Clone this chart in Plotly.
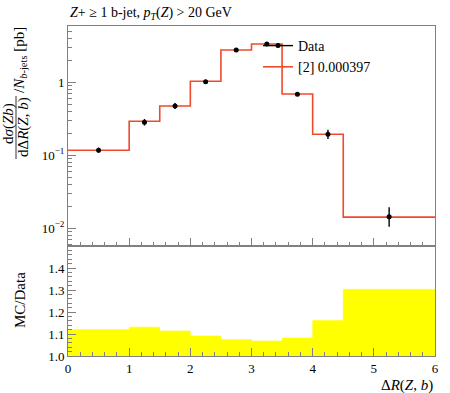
import plotly.graph_objects as go

# ---- data ----
edges = [0, 1, 1.5, 2, 2.5, 3, 3.5, 4, 4.5, 6]
mc_vals = [0.117, 0.292, 0.473, 1.03, 2.77, 3.35, 0.69, 0.194, 0.0142]
data_x = [0.5, 1.25, 1.75, 2.25, 2.75, 3.25, 3.75, 4.25, 5.25]
data_y = [0.117, 0.283, 0.473, 1.02, 2.77, 3.35, 0.685, 0.194, 0.0143]
err_up = [0.010, 0.031, 0.046, 0.05, 0.09, 0.10, 0.03, 0.030, 0.0051]
err_dn = [0.009, 0.028, 0.042, 0.05, 0.09, 0.10, 0.03, 0.027, 0.0038]
ratio_vals = [1.12, 1.131, 1.114, 1.091, 1.075, 1.068, 1.082, 1.161, 1.303]

x_ticks = [0, 1, 2, 3, 4, 5, 6]
y_ticks = [0.01, 0.1, 1]
y_ticktext = ["10<sup>\u22122</sup>", "10<sup>\u22121</sup>", "1"]
r_ticks = [1.0, 1.1, 1.2, 1.3, 1.4]
r_ticktext = ["1.0", "1.1", "1.2", "1.3", "1.4"]

FONT = "Liberation Serif"
AX = "#808080"
RED = "#ee4a2c"

W, H = 450, 393
L, R, T, B = 68, 15, 26, 37
PH = H - T - B  # 330
PW = W - L - R  # 367

def py(p):  # pixel y -> paper y
    return (H - B - p) / PH

def px(p):  # pixel x -> paper x
    return (p - L) / PW

fig = go.Figure()

# MC step line
fig.add_trace(go.Scatter(
    x=edges, y=mc_vals + [mc_vals[-1]], mode="lines", line_shape="hv",
    line=dict(color=RED, width=1.6), name="[2] 0.000397",
    xaxis="x", yaxis="y", showlegend=False))

# Data points
fig.add_trace(go.Scatter(
    x=data_x, y=data_y, mode="markers",
    marker=dict(color="black", size=5),
    error_y=dict(type="data", symmetric=False, array=err_up, arrayminus=err_dn,
                 color="black", thickness=1.4, width=0),
    xaxis="x", yaxis="y", showlegend=False, name="Data"))

# legend entries
fig.add_trace(go.Scatter(x=[None], y=[None], mode="lines+markers",
                         line=dict(color="black", width=1.4),
                         marker=dict(color="black", size=5),
                         name="Data", xaxis="x", yaxis="y"))
fig.add_trace(go.Scatter(x=[None], y=[None], mode="lines",
                         line=dict(color=RED, width=1.6),
                         name="[2] 0.000397", xaxis="x", yaxis="y"))

# Ratio fill
fig.add_trace(go.Scatter(
    x=edges, y=ratio_vals + [ratio_vals[-1]], mode="lines", line_shape="hv",
    line=dict(color="#ffff00", width=0.5), fill="tozeroy", fillcolor="#ffff00",
    xaxis="x2", yaxis="y2", showlegend=False))

minor_log = []
for e in [0.001, 0.01, 0.1, 1]:
    for k in range(2, 10):
        minor_log.append(round(k * e, 6))

split = 110 / PH

common_x = dict(range=[0, 6], showgrid=False, zeroline=False, showline=True,
                linecolor=AX, linewidth=1, mirror=True, ticks="inside",
                tickmode="array", tickvals=x_ticks, ticklen=8, tickcolor=AX,
                tickwidth=1,
                minor=dict(ticks="inside", dtick=0.2, tick0=0, ticklen=4,
                           tickcolor=AX, showgrid=False))

fig.update_layout(
    width=W, height=H,
    margin=dict(l=L, r=R, t=T, b=B, autoexpand=False),
    paper_bgcolor="white", plot_bgcolor="white",
    font=dict(family=FONT, size=13, color="black"),
    xaxis=dict(domain=[0, 1], anchor="y", showticklabels=False, **common_x),
    yaxis=dict(domain=[split, 1], anchor="x", type="log",
               range=[-2.244, 0.771], showgrid=False, zeroline=False,
               showline=True, linecolor=AX, linewidth=1, mirror=True,
               ticks="inside", tickmode="array", tickvals=y_ticks,
               ticktext=y_ticktext, ticklen=8, tickcolor=AX,
               tickfont=dict(size=13),
               minor=dict(ticks="inside", tickmode="array", tickvals=minor_log,
                          ticklen=4, tickcolor=AX, showgrid=False)),
    xaxis2=dict(domain=[0, 1], anchor="y2", showticklabels=True,
                tickfont=dict(size=13), **common_x),
    yaxis2=dict(domain=[0, split], anchor="x2", range=[1.0, 1.5],
                showgrid=False, zeroline=False, showline=True, linecolor=AX,
                linewidth=1, mirror=True, ticks="inside", tickmode="array",
                tickvals=r_ticks, ticktext=r_ticktext, ticklen=8,
                tickcolor=AX, tickfont=dict(size=13),
                minor=dict(ticks="inside", dtick=0.02, tick0=1.0, ticklen=4,
                           tickcolor=AX, showgrid=False)),
    legend=dict(x=px(258), y=py(30), xanchor="left", yanchor="top",
                bgcolor="rgba(0,0,0,0)", borderwidth=0,
                font=dict(size=14), tracegroupgap=0),
    showlegend=True,
)

ann = []
# title
ann.append(dict(text="<i>Z</i>+ \u2265 1 b-jet, <i>p</i><sub><i>T</i></sub>(<i>Z</i>) &gt; 20 GeV",
                xref="paper", yref="paper", x=0, y=py(13), xanchor="left",
                yanchor="middle", showarrow=False, font=dict(size=14)))
# x label
ann.append(dict(text="\u0394<i>R</i>(<i>Z</i>, <i>b</i>)", xref="paper", yref="paper",
                x=1, y=py(385), xanchor="right", yanchor="middle",
                showarrow=False, font=dict(size=15)))
# ratio y label
ann.append(dict(text="MC/Data", xref="paper", yref="paper", x=px(20), y=py(300),
                xanchor="center", yanchor="middle", textangle=-90,
                showarrow=False, font=dict(size=15)))
# main y label (fraction)
ann.append(dict(text="d<i>\u03c3</i>(<i>Zb</i>)", xref="paper", yref="paper",
                x=px(8), y=py(124), xanchor="center", yanchor="middle",
                textangle=-90, showarrow=False, font=dict(size=15)))
ann.append(dict(text="d\u0394<i>R</i>(<i>Z</i>, <i>b</i>)", xref="paper", yref="paper",
                x=px(24), y=py(127), xanchor="center", yanchor="middle",
                textangle=-90, showarrow=False, font=dict(size=15)))
ann.append(dict(text="/<i>N</i><sub><i>b</i>-jets</sub> [pb]", xref="paper", yref="paper",
                x=px(20), y=py(95), xanchor="center", yanchor="bottom",
                textangle=-90, showarrow=False, font=dict(size=15)))
fig.update_layout(annotations=ann)

fig.add_shape(type="line", xref="paper", yref="paper",
              x0=px(16), x1=px(16), y0=py(96), y1=py(159),
              line=dict(color="black", width=0.8))

fig.write_html("out.html", post_script="document.body.style.margin='0';",
               config={"displayModeBar": False})
